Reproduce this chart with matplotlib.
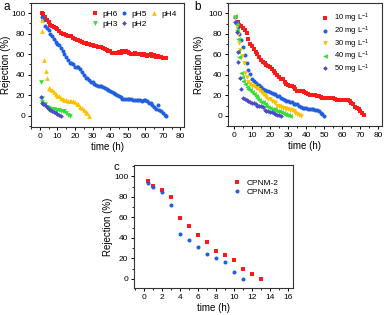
import matplotlib
matplotlib.use("Agg")
import matplotlib.pyplot as plt
from matplotlib.ticker import MultipleLocator

plt.rcParams['font.family'] = ['Liberation Sans', 'DejaVu Sans']
plt.rcParams['mathtext.fontset'] = 'custom'
plt.rcParams['mathtext.rm'] = 'Liberation Sans'
plt.rcParams['mathtext.it'] = 'Liberation Sans'

# ---------------- Panel a data ----------------
ph6_x = list(range(1, 73))
ph6_y = [100, 99, 96, 93, 91, 89, 88, 87, 86, 85, 83, 81, 80, 80, 79, 78, 78, 78, 76, 75,
         74, 74, 73, 72, 71, 71, 70, 70, 69, 69, 68, 68, 67, 67, 67, 66, 65, 64, 63, 63,
         61, 61, 61, 61, 62, 61, 63, 62, 63, 62, 61, 60, 60, 61, 60, 60, 60, 59, 60, 59,
         58, 59, 60, 58, 59, 57, 58, 57, 57, 56, 56, 56]
ph5_x = list(range(1, 73))
ph5_y = [96, 93, 88, 86, 84, 80, 78, 75, 72, 70, 69, 66, 63, 60, 57, 54, 51, 51, 50, 48,
         48, 48, 46, 43, 40, 37, 37, 35, 33, 33, 31, 30, 29, 29, 29, 28, 27, 26, 25, 24,
         23, 22, 21, 20, 19, 18, 16, 16, 16, 16, 16, 16, 15, 15, 15, 15, 15, 14, 15, 15,
         14, 12, 12, 10, 9, 7, 10, 6, 5, 3, 1, 0]
ph4_x = [1, 1.5, 2.5, 3.3, 4.2, 5, 6, 7, 8, 9, 10, 11, 12, 13, 14, 15, 16, 17, 18, 19,
         20, 21, 22, 23, 24, 25, 26, 27, 28]
ph4_y = [93, 83, 54, 44, 37, 27, 26, 25, 23, 21, 19, 19, 17, 16, 15, 15, 14, 14, 14, 14,
         13, 11, 11, 9, 8, 6, 4, 3, 0]
ph3_x = [0.5, 1, 1.5, 2, 3, 4, 5, 6, 7, 8, 9, 10, 11, 12, 13, 14, 15, 16, 17]
ph3_y = [33, 17, 13, 11, 11, 9, 8, 7, 7, 7, 6, 6, 6, 5, 5, 5, 3, 1, 0]
ph2_x = [0.5, 1, 2, 3, 4, 5, 6, 7, 8, 9, 10, 11, 12]
ph2_y = [18, 12, 11, 10, 9, 7, 6, 5, 4, 3, 2, 1, 0]

# ---------------- Panel b data ----------------
c10_x = list(range(2, 73))
c10_y = [91, 89, 88, 86, 84, 81, 75, 70, 68, 65, 62, 60, 57, 54, 52, 51, 50, 49, 48, 46,
         44, 42, 40, 38, 36, 36, 33, 31, 30, 29, 29, 28, 26, 24, 24, 24, 24, 23, 22, 21,
         20, 20, 20, 20, 19, 19, 18, 17, 17, 17, 17, 17, 17, 17, 16, 15, 15, 15, 15, 15,
         15, 15, 14, 12, 11, 9, 8, 7, 5, 3, 1]
c20_x = [0.5, 1.5, 2.5, 3, 4, 5, 6, 7, 8, 9, 10, 11, 12, 13, 14, 15, 16, 17, 18, 19,
         20, 21, 22, 23, 24, 25, 26, 27, 28, 29, 30, 31, 32, 33, 34, 35, 36, 37, 38, 39,
         40, 41, 42, 43, 44, 45, 46, 47, 48, 49, 50]
c20_y = [96, 91, 87, 80, 74, 67, 59, 51, 45, 41, 36, 34, 32, 30, 30, 28, 26, 25, 24, 24,
         23, 22, 21, 21, 19, 19, 17, 16, 15, 14, 14, 13, 13, 11, 11, 11, 10, 9, 8, 8,
         8, 7, 7, 7, 7, 6, 6, 5, 3, 2, 0]
c30_x = [0.5, 1.5, 2.5, 3, 3.5, 4.4, 5.4, 6.3, 7.2, 8, 9, 10, 11, 12, 13, 14, 15, 16, 17, 18,
         19, 20, 21, 22, 23, 24, 25, 26, 27, 28, 29, 30, 31, 32, 33, 34, 35, 36, 37]
c30_y = [96, 88, 80, 71, 64, 58, 51, 42, 38, 33, 31, 29, 29, 27, 27, 25, 23, 21, 19, 18,
         16, 16, 14, 13, 12, 10, 10, 9, 8, 8, 7, 7, 6, 6, 5, 3, 2, 1, 0]
c40_x = [0.5, 1, 1.5, 2, 2.5, 3, 4, 4.5, 5, 6, 7, 8, 9, 10, 11, 12, 13, 14, 15, 16,
         17, 18, 19, 20, 21, 22, 23, 24, 25, 26, 27, 28, 29, 30, 31]
c40_y = [97, 90, 84, 75, 63, 57, 42, 38, 34, 31, 28, 26, 25, 23, 21, 19, 17, 15, 13, 13,
         11, 10, 9, 8, 7, 7, 6, 5, 5, 4, 3, 2, 1, 1, 0]
c50_x = [0.5, 1.5, 2.2, 2.5, 3.1, 4, 5, 6, 7, 8, 9, 10, 11, 12, 13, 14, 15, 16, 17, 18,
         19, 20, 21, 22, 23, 24, 25, 26]
c50_y = [91, 82, 62, 52, 37, 26, 17, 16, 15, 14, 13, 12, 12, 11, 10, 10, 10, 9, 6, 5,
         5, 4, 4, 3, 2, 1, 1, 0]

# ---------------- Panel c data ----------------
cp2_x = [0.5, 1, 2, 3, 4, 5, 6, 7, 8, 9, 10, 11, 12, 13]
cp2_y = [95, 91, 87, 80, 59, 51, 43, 36, 27, 23, 18, 10, 5, 0]
cp3_x = [0.5, 1, 2, 3, 4, 5, 6, 7, 8, 9, 10, 11]
cp3_y = [93, 90, 85, 72, 44, 38, 31, 24, 20, 16, 7, 0]

RED = '#ff1a1a'
BLUE = '#1f5fe0'
YEL = '#ffc000'
GRN = '#33dd33'
PUR = '#4b4bc8'

FS = 6
LFS = 7
MS = 2.9

fig = plt.figure(figsize=(3.85, 3.15), dpi=100)
W, H = 385, 315

def add_ax(l, r, t, b):
    return fig.add_axes([l / W, 1 - b / H, (r - l) / W, (b - t) / H])

def style(ax, ylab_x):
    for s in ax.spines.values():
        s.set_linewidth(0.8)
        s.set_color('#333333')
    ax.tick_params(which='major', direction='out', length=2.5, width=0.7, labelsize=FS, pad=1.5)
    ax.tick_params(which='minor', direction='out', length=1.5, width=0.6)
    ax.set_ylabel('Rejection (%)', fontsize=LFS)
    ax.yaxis.set_label_coords(ylab_x, 0.5)
    ax.set_xlabel('time (h)', fontsize=LFS, labelpad=2)

# Panel a
axa = add_ax(31, 184, 3, 127)
h6, = axa.plot(ph6_x, ph6_y, 's', color=RED, ms=MS, mew=0, label='pH6')
h5, = axa.plot(ph5_x, ph5_y, 'o', color=BLUE, ms=MS, mew=0, label='pH5')
h4, = axa.plot(ph4_x, ph4_y, '^', color=YEL, ms=MS + 0.5, mew=0, label='pH4')
h3, = axa.plot(ph3_x, ph3_y, 'v', color=GRN, ms=MS + 0.5, mew=0, label='pH3')
h2, = axa.plot(ph2_x, ph2_y, 'D', color=PUR, ms=MS - 0.5, mew=0, label='pH2')
axa.set_xlim(-5, 82)
axa.set_ylim(-11, 110)
axa.xaxis.set_major_locator(MultipleLocator(10))
axa.xaxis.set_minor_locator(MultipleLocator(5))
axa.yaxis.set_major_locator(MultipleLocator(20))
axa.yaxis.set_minor_locator(MultipleLocator(10))
style(axa, -0.13)
axa.legend(handles=[h6, h3, h5, h2, h4], ncol=3, loc='upper right', fontsize=FS,
           frameon=False, handlelength=0.7, handletextpad=0.5, columnspacing=0.5,
           labelspacing=0.2, borderpad=0.4, bbox_to_anchor=(1.0, 1.0))
fig.text(3 / W, 1 - 10 / H, 'a', fontsize=8.5)

# Panel b
axb = add_ax(228, 382, 3, 126)
axb.plot(c10_x, c10_y, 's', color=RED, ms=MS, mew=0, label='10 mg L$^{-1}$')
axb.plot(c20_x, c20_y, 'o', color=BLUE, ms=MS, mew=0, label='20 mg L$^{-1}$')
axb.plot(c30_x, c30_y, 'v', color=YEL, ms=MS + 0.5, mew=0, label='30 mg L$^{-1}$')
axb.plot(c40_x, c40_y, '<', color=GRN, ms=MS + 0.5, mew=0, label='40 mg L$^{-1}$')
axb.plot(c50_x, c50_y, 'D', color=PUR, ms=MS - 0.5, mew=0, label='50 mg L$^{-1}$')
axb.set_xlim(-3.3, 82)
axb.set_ylim(-10, 110)
axb.xaxis.set_major_locator(MultipleLocator(10))
axb.xaxis.set_minor_locator(MultipleLocator(5))
axb.yaxis.set_major_locator(MultipleLocator(20))
axb.yaxis.set_minor_locator(MultipleLocator(10))
style(axb, -0.155)
axb.legend(loc='upper right', fontsize=FS - 0.5, frameon=False, handlelength=0.8,
           handletextpad=0.8, labelspacing=-0.1, borderpad=0.7,
           bbox_to_anchor=(0.98, 1.0))
fig.text(194 / W, 1 - 10 / H, 'b', fontsize=8.5)

# Panel c
axc = add_ax(134, 293, 165, 288)
axc.plot(cp2_x, cp2_y, 's', color=RED, ms=MS, mew=0, label='CPNM-2')
axc.plot(cp3_x, cp3_y, 'o', color=BLUE, ms=MS, mew=0, label='CPNM-3')
axc.set_xlim(-1.1, 16.6)
axc.set_ylim(-9, 111)
axc.xaxis.set_major_locator(MultipleLocator(2))
axc.xaxis.set_minor_locator(MultipleLocator(1))
axc.yaxis.set_major_locator(MultipleLocator(20))
axc.yaxis.set_minor_locator(MultipleLocator(10))
style(axc, -0.135)
axc.legend(loc='upper right', fontsize=FS, frameon=False, handlelength=0.8,
           handletextpad=0.8, labelspacing=0.1, borderpad=1.2)
fig.text(114 / W, 1 - 170 / H, 'c', fontsize=8)

fig.savefig('out.png', dpi=100)
